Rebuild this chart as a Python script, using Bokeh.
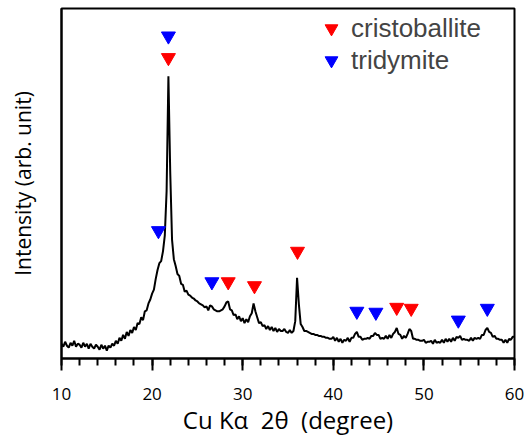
from bokeh.plotting import figure
from bokeh.models import Range1d, FixedTicker, Legend, LegendItem
from bokeh.embed import file_html
from bokeh.resources import INLINE

# XRD pattern, 2-theta from 10 to 60 deg in 0.2 deg steps (intensity, arb. unit)
two_theta_start = 10.0
two_theta_step = 0.2
intensity = [
    15, 12, 17, 13, 11, 16, 13, 18, 12, 15,   # 10.0 - 11.8
    14, 11, 16, 12, 15, 10, 15, 12, 10, 14,   # 12.0 - 13.8
    12, 9, 14, 10, 13, 8, 13, 11, 15, 13,     # 14.0 - 15.8
    18, 15, 21, 18, 24, 20, 27, 23, 29, 26,   # 16.0 - 17.8
    32, 29, 36, 35, 42, 39, 48, 49, 56, 60,   # 18.0 - 19.8
    66, 70, 81, 90, 97, 99, 109, 125, 170, 287,   # 20.0 - 21.8
    190, 121, 101, 94, 86, 84, 76, 75, 68, 69,    # 22.0 - 23.8
    65, 64, 62, 61, 59, 58, 56, 55, 54, 52,   # 24.0 - 25.8
    53, 49, 54, 53, 50, 49, 48, 48, 49, 50,   # 26.0 - 27.8
    53, 57, 58, 50, 49, 44, 45, 40, 43, 38,   # 28.0 - 29.8
    41, 36, 40, 37, 43, 46, 56, 48, 42, 36,   # 30.0 - 31.8
    37, 33, 34, 30, 33, 29, 32, 28, 31, 27,   # 32.0 - 33.8
    30, 28, 28, 30, 27, 26, 29, 26, 28, 38,   # 34.0 - 35.8
    82, 55, 35, 32, 28, 28, 27, 26, 25, 25,   # 36.0 - 37.8
    24, 24, 23, 23, 22, 22, 21, 21, 20, 20,   # 38.0 - 39.8
    22, 18, 21, 17, 20, 16, 19, 18, 21, 17,   # 40.0 - 41.8
    21, 21, 25, 27, 22, 22, 19, 20, 20, 21,   # 42.0 - 43.8
    20, 23, 23, 26, 24, 24, 20, 21, 20, 23,   # 44.0 - 45.8
    20, 24, 21, 25, 27, 31, 25, 24, 20, 23,   # 46.0 - 47.8
    21, 25, 30, 28, 20, 20, 19, 19, 18, 18,   # 48.0 - 49.8
    19, 16, 17, 17, 18, 15, 19, 16, 17, 16,   # 50.0 - 51.8
    19, 16, 20, 17, 20, 17, 21, 18, 22, 21,   # 52.0 - 53.8
    23, 19, 20, 19, 19, 18, 21, 18, 21, 20,   # 54.0 - 55.8
    21, 20, 24, 24, 29, 31, 27, 26, 22, 23,   # 56.0 - 57.8
    20, 20, 19, 19, 16, 19, 16, 20, 19, 22,   # 58.0 - 59.8
    22,                                       # 60.0
]
two_theta = [round(two_theta_start + two_theta_step * i, 1) for i in range(len(intensity))]

# peak markers
cristoballite_x = [21.8, 28.4, 31.3, 36.05, 47.0, 48.6]
cristoballite_y = [306, 78, 74, 109, 52, 51]
tridymite_x = [21.8, 20.7, 26.6, 42.6, 44.7, 53.8, 57.0]
tridymite_y = [328, 130, 78, 48, 47, 39, 51]

x_ticks = [10, 20, 30, 40, 50, 60]

p = figure(width=528, height=438, output_backend="svg", toolbar_location=None,
           x_range=Range1d(10, 60), y_range=Range1d(0, 356),
           min_border_left=61, min_border_right=14, min_border_top=8, min_border_bottom=74)
p.xgrid.visible = False
p.ygrid.visible = False
p.outline_line_color = "black"
p.outline_line_width = 2
p.background_fill_color = "white"
p.border_fill_color = "white"

p.line(two_theta, intensity, line_color="black", line_width=2)

r_c = p.scatter(cristoballite_x, cristoballite_y, marker="inverted_triangle", size=14,
                fill_color="#ff0000", line_color="#ff0000")
r_t = p.scatter(tridymite_x, tridymite_y, marker="inverted_triangle", size=14,
                fill_color="#0000ff", line_color="#0000ff")

legend = Legend(items=[LegendItem(label="cristoballite", renderers=[r_c]),
                       LegendItem(label="tridymite", renderers=[r_t])],
                location=(254, 282), border_line_color=None, background_fill_alpha=0,
                label_text_font="Liberation Sans", label_text_font_size="26px",
                glyph_width=32, glyph_height=32, spacing=0, label_standoff=4,
                padding=4, margin=0)
p.add_layout(legend)

xa = p.xaxis[0]
xa.ticker = FixedTicker(ticks=x_ticks, minor_ticks=list(range(10, 61, 2)))
xa.axis_line_width = 2
xa.major_tick_line_width = 2
xa.minor_tick_line_width = 2
xa.major_tick_out = 12
xa.major_tick_in = 0
xa.minor_tick_out = 7
xa.minor_tick_in = 0
xa.major_label_text_font = "Open Sans"
xa.major_label_text_font_size = "17px"
xa.major_label_text_color = "black"
xa.major_label_standoff = 17
xa.axis_label = "Cu K\u03b1\u00a0 2\u03b8\u00a0 (degree)"
xa.axis_label_text_font = "Open Sans"
xa.axis_label_text_font_size = "24px"
xa.axis_label_text_font_style = "normal"
xa.axis_label_text_color = "black"
xa.axis_label_standoff = 0

ya = p.yaxis[0]
ya.ticker = FixedTicker(ticks=[])
ya.axis_line_width = 2
ya.major_tick_out = 0
ya.minor_tick_out = 0
ya.major_label_text_font_size = "0px"
ya.axis_label = "Intensity (arb. unit)"
ya.axis_label_text_font = "Open Sans"
ya.axis_label_text_font_size = "21px"
ya.axis_label_text_font_style = "normal"
ya.axis_label_text_color = "black"
ya.axis_label_standoff = 25

open("out.html", "w").write(file_html(p, INLINE))
